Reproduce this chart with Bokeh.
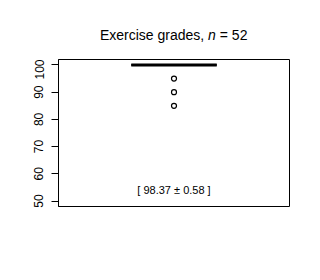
import numpy as np
from bokeh.plotting import figure
from bokeh.layouts import column
from bokeh.models import Range1d, FixedTicker, Label, ColumnDataSource
from bokeh.embed import file_html
from bokeh.resources import INLINE

# ---- data ----
grade_values = [100, 95, 90, 85]
grade_counts = [44, 2, 3, 3]
y_ticks = [50, 60, 70, 80, 90, 100]
title_main = "Exercise grades,"
title_var = "n"
title_tail = "= 52"

grades = np.repeat(grade_values, grade_counts)
n = len(grades)
q1, med, q3 = np.percentile(grades, [25, 50, 75])
iqr = q3 - q1
lo_f, hi_f = q1 - 1.5 * iqr, q3 + 1.5 * iqr
outliers = sorted(set(grades[(grades < lo_f) | (grades > hi_f)].tolist()))
mean = grades.mean()
se = grades.std(ddof=1) / np.sqrt(n)
stat_text = f"[ {mean:.2f} \u00b1 {se:.2f} ]"

FONT = "Liberation Sans"
HALF = 0.185  # half box width (x units)

# ---- title strip ----
t = figure(width=320, height=59, x_range=Range1d(0.5, 1.5), y_range=Range1d(0, 1),
           output_backend="svg", toolbar_location=None, x_axis_location=None, y_axis_location=None,
           min_border_left=58, min_border_right=31, min_border_top=0, min_border_bottom=0)
t.grid.visible = False
t.outline_line_color = None
t.background_fill_color = "white"
t.border_fill_color = "white"
ty = 25 / 59
t.add_layout(Label(x=1, y=ty, x_offset=30.2, text=title_main, text_align="right",
                   text_baseline="alphabetic", text_font=FONT, text_font_size="14px", text_color="black"))
t.add_layout(Label(x=1, y=ty, x_offset=38, text=title_var, text_align="center",
                   text_baseline="alphabetic", text_font=FONT, text_font_size="14px",
                   text_font_style="italic", text_color="black"))
t.add_layout(Label(x=1, y=ty, x_offset=45.8, text=title_tail, text_align="left",
                   text_baseline="alphabetic", text_font=FONT, text_font_size="14px", text_color="black"))

# ---- main plot ----
p = figure(width=320, height=221, x_range=Range1d(0.5, 1.5), y_range=Range1d(48, 102),
           output_backend="svg", toolbar_location=None, x_axis_location=None,
           min_border_left=58, min_border_right=31, min_border_top=0, min_border_bottom=74)
p.grid.visible = False
p.outline_line_color = "black"
p.outline_line_width = 1
p.outline_line_alpha = 1
p.background_fill_color = "white"
p.border_fill_color = "white"

ax = p.yaxis[0]
ax.ticker = FixedTicker(ticks=y_ticks)
ax.major_tick_out = 7
ax.major_tick_in = 0
ax.minor_tick_line_color = None
ax.axis_line_color = "black"
ax.major_tick_line_color = "black"
ax.major_label_orientation = "vertical"
ax.major_label_text_font = FONT
ax.major_label_text_font_size = "12px"
ax.major_label_text_color = "black"
ax.major_label_standoff = 8

# box (zero-height here), median and outliers
box_src = ColumnDataSource(dict(x0=[1 - HALF], x1=[1 + HALF], q1=[q1], q3=[q3], med=[med]))
p.quad(left="x0", right="x1", bottom="q1", top="q3", source=box_src,
       fill_color=None, line_color="black", line_width=1)
p.segment(x0="x0", x1="x1", y0="med", y1="med", source=box_src,
          line_color="black", line_width=3, line_cap="butt")
out_src = ColumnDataSource(dict(x=[1] * len(outliers), y=outliers))
p.scatter(x="x", y="y", source=out_src, size=5, marker="circle",
          fill_color=None, line_color="black", line_width=1.2)

# statistic annotation
p.add_layout(Label(x=1, y=54, text=stat_text, text_align="center", text_baseline="middle",
                   text_font=FONT, text_font_size="11px", text_color="black"))

layout = column(t, p, spacing=0)
open("out.html", "w").write(file_html(layout, INLINE))
